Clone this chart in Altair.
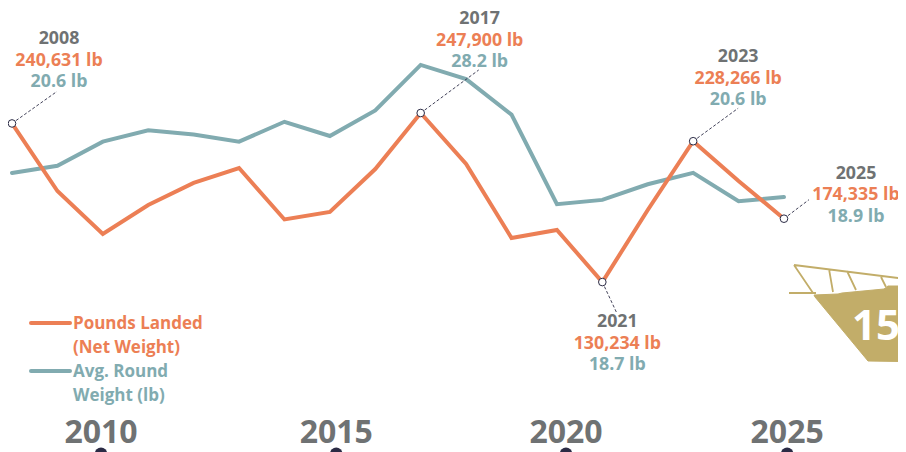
import altair as alt
import pandas as pd

FONT = "Open Sans"
ORANGE = "#EC7F55"
TEAL = "#81ABB0"
GRAY = "#6F7273"
DARK = "#2B2B45"
GOLD = "#C2AD69"

years = list(range(2008, 2026))
pounds = [240631, 193600, 163700, 183900, 199200, 209600, 173800, 179000, 208900,
          247900, 212400, 160900, 166500, 130234, 180400, 228266, 200600, 174335]
avg_weight = [20.6, 21.1, 22.8, 23.6, 23.3, 22.8, 24.2, 23.2, 25.0,
              28.2, 27.2, 24.7, 18.4, 18.7, 19.8, 20.6, 18.6, 18.9]

ann_years = [2008, 2017, 2021, 2023, 2025]
ann_pounds = [240631, 247900, 130234, 228266, 174335]
ann_pounds_text = ["240,631 lb", "247,900 lb", "130,234 lb", "228,266 lb", "174,335 lb"]
ann_avg_text = ["20.6 lb", "28.2 lb", "18.7 lb", "20.6 lb", "18.9 lb"]

tick_labels = ["2010", "2015", "2020", "2025"]
tick_years = [2009.96, 2015.14, 2020.2, 2025.07]

legend_lines = ["Pounds Landed", "(Net Weight)", "Avg. Round", "Weight (lb)"]

# label / leader placement relative to each annotated point
label_dx = {2008: 47, 2017: 59, 2021: 15, 2023: 45, 2025: 72}
label_dy = {2008: -84, 2017: -94, 2021: 40, 2023: -84, 2025: -45}
leader_dx = {2008: 45, 2017: 58, 2021: 14, 2023: 45, 2025: 25}
leader_dy = {2008: -32, 2017: -43, 2021: 30, 2023: -33, 2025: -19}
LINE_GAP = 21.5

W, H = 890, 444
x_scale = alt.Scale(domain=[2007.912, 2027.511], nice=False, zero=False)
y_pounds = alt.Scale(domain=[11956, 320980], nice=False, zero=False)
y_avg = alt.Scale(domain=[0.95, 32.21], nice=False, zero=False)

X = alt.X("year:Q", scale=x_scale, axis=None)
YP = alt.Y("pounds:Q", scale=y_pounds, axis=None)
YA = alt.Y("avg:Q", scale=y_avg, axis=None)

series = pd.DataFrame({"year": years, "pounds": pounds, "avg": avg_weight})
line_style = dict(strokeWidth=4, strokeCap="round", strokeJoin="miter")

layers = [
    alt.Chart(series).mark_line(color=TEAL, **line_style).encode(x=X, y=YA),
    alt.Chart(series).mark_line(color=ORANGE, **line_style).encode(x=X, y=YP),
]

for yr, lb, lb_txt, av_txt in zip(ann_years, ann_pounds, ann_pounds_text, ann_avg_text):
    row = pd.DataFrame({"year": [yr], "pounds": [lb]})
    layers.append(
        alt.Chart(row).mark_rule(
            color=DARK, strokeWidth=0.9, strokeDash=[3, 2],
            x2Offset=leader_dx[yr], y2Offset=leader_dy[yr],
        ).encode(x=X, y=YP, x2="year:Q", y2="pounds:Q")
    )
    layers.append(
        alt.Chart(row).mark_point(
            filled=True, fill="white", stroke=DARK, strokeWidth=1, size=58, opacity=1
        ).encode(x=X, y=YP)
    )
    for i, (txt, col) in enumerate([(str(yr), GRAY), (lb_txt, ORANGE), (av_txt, TEAL)]):
        layers.append(
            alt.Chart(row).mark_text(
                text=txt, font=FONT, fontWeight="bold", fontSize=17.8, color=col,
                dx=label_dx[yr], dy=label_dy[yr] + i * LINE_GAP,
            ).encode(x=X, y=YP)
        )

ticks = pd.DataFrame({"year": tick_years, "label": tick_labels})
layers.append(
    alt.Chart(ticks).mark_text(
        font=FONT, fontWeight="bold", fontSize=32, color=GRAY
    ).encode(x=X, y=alt.value(425), text="label:N")
)
layers.append(
    alt.Chart(ticks).mark_point(
        filled=True, color=DARK, size=150, opacity=1
    ).encode(x=X, y=alt.value(445.5))
)

# legend
legend_colors = [ORANGE, ORANGE, TEAL, TEAL]
legend_y = [316, 340, 364, 388]
for txt, col, ly in zip(legend_lines, legend_colors, legend_y):
    layers.append(
        alt.Chart(pd.DataFrame({"t": [txt]})).mark_text(
            font=FONT, fontWeight="bold", fontSize=17, color=col, align="left"
        ).encode(x=alt.value(65), y=alt.value(ly), text="t:N")
    )
for col, ly in [(ORANGE, 315), (TEAL, 363)]:
    layers.append(
        alt.Chart(pd.DataFrame({"t": [0]})).mark_rule(
            color=col, strokeWidth=4, strokeCap="round"
        ).encode(x=alt.value(23), x2=alt.value(62), y=alt.value(ly))
    )

# boat icon
hull = ("M0 0L24 -1L28 -2L70 -6L74 -9L120 -9L120 67L54 66L1 2Z")
rails = ("M-20 -30L100 -15M-20 -30L-1 -2M-25 -2L2 -2M15 -26L19 -3M33 -24L42 -5"
         "M67 -18L72 -8")
anchor = pd.DataFrame({"t": [0]})
layers.append(
    alt.Chart(anchor).mark_point(
        shape=hull, size=4, filled=True, fill=GOLD, stroke=GOLD, strokeWidth=1, opacity=1
    ).encode(x=alt.value(806), y=alt.value(287))
)
layers.append(
    alt.Chart(anchor).mark_point(
        shape=rails, size=4, filled=False, stroke=GOLD, strokeWidth=1.8, opacity=1
    ).encode(x=alt.value(806), y=alt.value(287))
)
layers.append(
    alt.Chart(pd.DataFrame({"t": ["15"]})).mark_text(
        font=FONT, fontWeight="bold", fontSize=42, color="white", align="left"
    ).encode(x=alt.value(844), y=alt.value(319), text="t:N")
)

chart = (
    alt.layer(*layers)
    .resolve_scale(y="independent")
    .properties(width=W, height=H, padding=0, background="white",
                autosize=alt.AutoSizeParams(type="none"))
    .configure_view(stroke=None)
)
chart.save("out.html", embed_options={"renderer": "svg", "actions": False})
